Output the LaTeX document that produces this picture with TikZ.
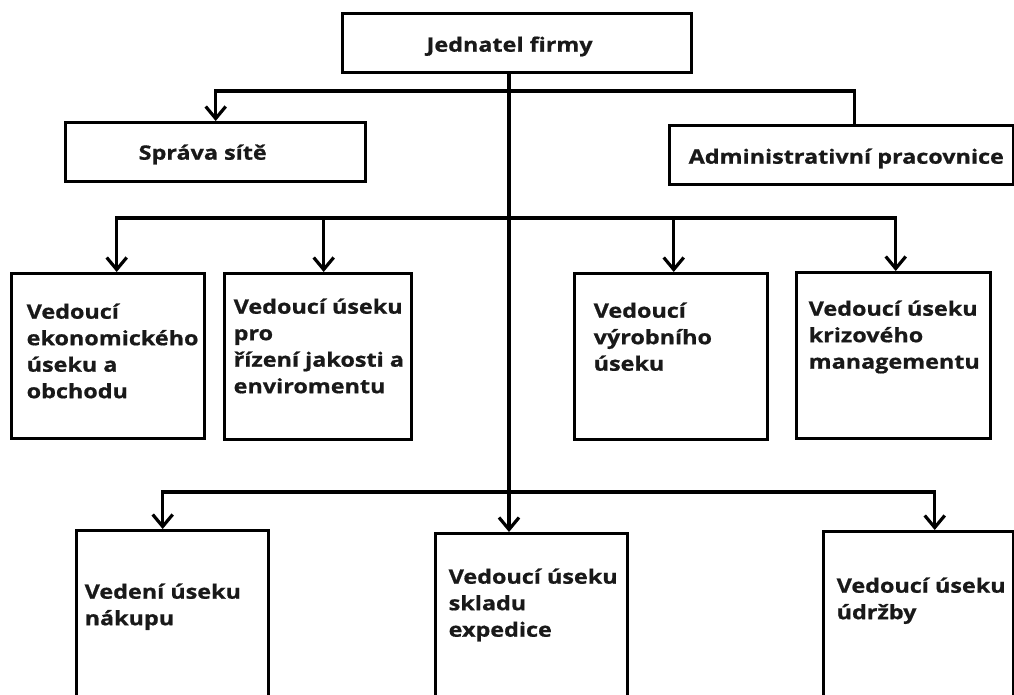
\documentclass[tikz,border=0pt]{standalone}
\usepackage{fontspec}
\setmainfont{Open Sans}[FakeStretch=1.18, BoldFeatures={FakeBold=0.8}]
\usetikzlibrary{arrows.meta}
\newcommand{\bt}[5]{\parbox[t][#2][t]{#1}{\vspace*{\dimexpr #4-18.55pt\relax}\hspace*{#3}\begin{tabular}[t]{@{}l@{}}#5\end{tabular}}}
\tikzset{
  box/.style={draw, line width=3.4pt, inner sep=0pt, anchor=north west, font=\fontsize{19.8}{26.5}\selectfont\bfseries, text=black!90},
  conn/.style={line width=3.2pt},
  arr/.style={conn, -{Straight Barb[length=12pt,width=20pt]}}
}
\begin{document}
\begin{tikzpicture}[x=1pt,y=-1pt]
\clip (0,0) rectangle (1014,695);
\fill[white] (0,0) rectangle (1014,695);
% boxes
\node[box] (top) at (341,12) {\bt{349pt}{59pt}{84pt}{38pt}{Jednatel firmy}};
\node[box] (spr) at (64,121) {\bt{300pt}{59pt}{73pt}{37pt}{Správa sítě}};
\node[box] (adm) at (668,124) {\bt{344pt}{59pt}{19pt}{38pt}{Administrativní pracovnice}};
\node[box] (r1) at (10,272) {\bt{193pt}{165pt}{15pt}{45pt}{Vedoucí\\ekonomického\\úseku a\\obchodu}};
\node[box] (r2) at (223,272) {\bt{187pt}{166pt}{9pt}{40pt}{Vedoucí úseku\\pro\\řízení jakosti a\\enviromentu}};
\node[box] (r3) at (573,272) {\bt{193pt}{166pt}{19pt}{44pt}{Vedoucí\\výrobního\\úseku}};
\node[box] (r4) at (795,271) {\bt{194pt}{166pt}{12pt}{43pt}{Vedoucí úseku\\krizového\\managementu}};
\node[box] (bA) at (75,529) {\bt{192pt}{200pt}{8pt}{68pt}{Vedení úseku\\nákupu}};
\node[box] (bB) at (434,532) {\bt{192pt}{200pt}{13pt}{50pt}{Vedoucí úseku\\skladu\\expedice}};
\node[box] (bC) at (822,530) {\bt{190pt}{200pt}{13pt}{61pt}{Vedoucí úseku\\údržby}};
% bus junctions
\coordinate (b1) at (509,91);
\coordinate (b2) at (509,218);
\coordinate (b3) at (509,492);
% trunk
\draw[arr] (top.south -| b1) -- (bB.north -| b1);
% level 1
\draw[arr] (b1) -| (spr.north);
\draw[conn] (b1) -| ([xshift=13pt]adm.north);
% level 2
\draw[arr] (b2) -| ([xshift=8.5pt]r1.north);
\draw[arr] (b2) -| ([xshift=5.5pt]r2.north);
\draw[arr] (b2) -| ([xshift=2.5pt]r3.north);
\draw[arr] (b2) -| ([xshift=2pt]r4.north);
% level 3
\draw[arr] (b3) -| ([xshift=-10pt]bA.north);
\draw[arr] (b3) -| ([xshift=16pt]bC.north);
\end{tikzpicture}
\end{document}
